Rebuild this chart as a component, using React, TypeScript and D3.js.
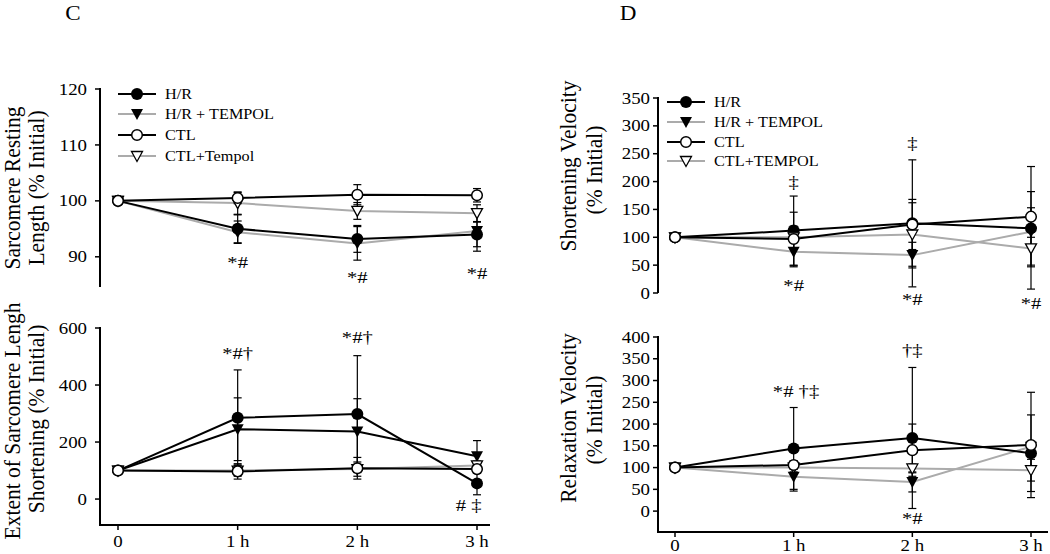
import React from "react";
import * as d3 from "d3";

// ---------- data ----------
const timeLabels = ["0", "1 h", "2 h", "3 h"];
const timeIdx = [0, 1, 2, 3];
const legendC = ["H/R", "H/R + TEMPOL", "CTL", "CTL+Tempol"];
const legendD = ["H/R", "H/R + TEMPOL", "CTL", "CTL+TEMPOL"];

// C top: Sarcomere resting length
const restHR = [100, 95, 93.2, 94];
const restHRErr = [0, 2.5, 2.4, 2.2];
const restHRT = [100, 94.4, 92.4, 94.6];
const restHRTErr = [0, 2, 3, 3.6];
const restCTL = [100, 100.5, 101.1, 101];
const restCTLErr = [0.4, 1, 1.8, 1.2];
const restCTLT = [100, 99.6, 98.2, 97.8];
const restCTLTErr = [0, 2, 1.5, 1.5];
const restTicks = [90, 100, 110, 120];
const restAnnText = ["*#", "*#", "*#"];
const restAnnTime = [1, 2, 3];
const restAnnVal = [89.1, 86.4, 87.1];

// C bottom: Extent of shortening
const shortHR = [100, 285, 298, 55];
const shortHRErr = [0, 168, 205, 40];
const shortHRT = [100, 245, 237, 150];
const shortHRTErr = [0, 110, 115, 55];
const shortCTL = [100, 97, 108, 105];
const shortCTLErr = [0, 27, 38, 15];
const shortCTLT = [100, 100, 105, 118];
const shortCTLTErr = [0, 20, 25, 15];
const shortTicks = [0, 200, 400, 600];
const shortAnnText = ["*#\u2020", "*#\u2020", "# \u2021"];
const shortAnnTime = [1, 2, 2.93];
const shortAnnVal = [512, 568, -21];

// D top: Shortening velocity
const velHR = [100, 112, 125, 116];
const velHRErr = [0, 62, 114, 66];
const velHRT = [100, 74, 68, 110];
const velHRTErr = [0, 27, 23, 10];
const velCTL = [100, 97, 123, 137];
const velCTLErr = [0, 48, 45, 90];
const velCTLT = [100, 100, 105, 80];
const velCTLTErr = [0, 20, 57, 73];
const velTicks = [0, 50, 100, 150, 200, 250, 300, 350];
const velAnnText = ["\u2021", "\u2021", "*#", "*#", "*#"];
const velAnnTime = [1, 2, 1, 2, 3];
const velAnnVal = [199, 269, 14, -11, -18];

// D bottom: Relaxation velocity
const relHR = [100, 144, 168, 133];
const relHRErr = [0, 94, 162, 88];
const relHRT = [100, 79, 67, 148];
const relHRTErr = [0, 33, 23, 10];
const relCTL = [100, 106, 140, 152];
const relCTLErr = [0, 10, 60, 121];
const relCTLT = [100, 100, 98, 94];
const relCTLTErr = [0, 10, 10, 25];
const relTicks = [0, 50, 100, 150, 200, 250, 300, 350, 400];
const relAnnText = ["*# \u2020\u2021", "\u2020\u2021", "*#"];
const relAnnTime = [1.02, 2, 2];
const relAnnVal = [276, 370, -16];

// ---------- styling ----------
const BLACK = "#000";
const GRAY = "#ababab";
const FONT = "'Liberation Serif', 'Times New Roman', serif";
const markers = ["fc", "ft", "oc", "ot"];
const SX = 1.18; // horizontal widening of glyphs, as in the reference

type Series = { values: number[]; err: number[]; marker: string; color: string };

function WText({
  x,
  y,
  size,
  anchor,
  sx,
  children,
}: {
  x: number;
  y: number;
  size: number;
  anchor: "start" | "middle" | "end";
  sx?: number;
  children: React.ReactNode;
}) {
  return (
    <text
      transform={`translate(${x},${y}) scale(${sx ?? SX},1)`}
      dy="0.35em"
      textAnchor={anchor}
      fontSize={size}
      fontFamily={FONT}
      fill={BLACK}
    >
      {children}
    </text>
  );
}

function Marker({ kind, x, y }: { kind: string; x: number; y: number }) {
  if (kind === "fc") return <circle cx={x} cy={y} r={6} fill={BLACK} />;
  if (kind === "oc") return <circle cx={x} cy={y} r={5.3} fill="#fff" stroke={BLACK} strokeWidth={1.5} />;
  const p = `M${x - 6},${y - 5}L${x + 6},${y - 5}L${x},${y + 6}Z`;
  if (kind === "ft") return <path d={p} fill={BLACK} />;
  return (
    <path
      d={`M${x - 5.5},${y - 4.5}L${x + 5.5},${y - 4.5}L${x},${y + 5.5}Z`}
      fill="#fff"
      stroke={BLACK}
      strokeWidth={1.3}
    />
  );
}

function Panel(props: {
  xRange: [number, number];
  yDomain: [number, number];
  yRange: [number, number];
  axisX: number;
  tickGap: number;
  ticks: number[];
  series: Series[];
  xAxis: boolean;
  xAxisEnd: number;
  labelX: number;
  annText: string[];
  annTime: number[];
  annVal: number[];
}) {
  const x = d3.scaleLinear().domain([0, 3]).range(props.xRange);
  const y = d3.scaleLinear().domain(props.yDomain).range(props.yRange);
  const line = d3
    .line<number>()
    .x((_, i) => x(timeIdx[i]))
    .y((d) => y(d));
  const ax = props.axisX;
  const bottom = props.yRange[0];
  return (
    <g>
      <line x1={ax} x2={ax} y1={bottom} y2={props.yRange[1] - 1} stroke={BLACK} strokeWidth={2} />
      {props.ticks.map((t) => (
        <g key={t}>
          <line x1={ax - 5} x2={ax} y1={y(t)} y2={y(t)} stroke={BLACK} strokeWidth={1.5} />
          <WText x={ax - props.tickGap} y={y(t)} size={16} anchor="end">
            {t}
          </WText>
        </g>
      ))}
      {props.xAxis && (
        <g>
          <line x1={ax - 1} x2={props.xAxisEnd} y1={bottom} y2={bottom} stroke={BLACK} strokeWidth={2} />
          {timeIdx.map((t) => (
            <g key={t}>
              <line x1={x(t)} x2={x(t)} y1={bottom} y2={bottom + 5} stroke={BLACK} strokeWidth={1.5} />
              <WText x={x(t)} y={props.labelX} size={16} anchor="middle">
                {timeLabels[t]}
              </WText>
            </g>
          ))}
        </g>
      )}
      {props.series
        .filter((s) => s.color !== BLACK)
        .map((s, i) => (
          <path key={"g" + i} d={line(s.values) || ""} fill="none" stroke={s.color} strokeWidth={2} />
        ))}
      {props.series
        .filter((s) => s.color === BLACK)
        .map((s, i) => (
          <path key={"b" + i} d={line(s.values) || ""} fill="none" stroke={s.color} strokeWidth={2} />
        ))}
      {props.series.map((s, si) =>
        s.values.map((v, i) =>
          s.err[i] > 0 ? (
            <g key={`e${si}-${i}`} stroke={BLACK} strokeWidth={1.2}>
              <line x1={x(timeIdx[i])} x2={x(timeIdx[i])} y1={y(v - s.err[i])} y2={y(v + s.err[i])} />
              <line x1={x(timeIdx[i]) - 4} x2={x(timeIdx[i]) + 4} y1={y(v + s.err[i])} y2={y(v + s.err[i])} />
              <line x1={x(timeIdx[i]) - 4} x2={x(timeIdx[i]) + 4} y1={y(v - s.err[i])} y2={y(v - s.err[i])} />
            </g>
          ) : null
        )
      )}
      {[1, 0, 3, 2].map((si) =>
        props.series[si].values.map((v, i) => (
          <Marker key={`m${si}-${i}`} kind={props.series[si].marker} x={x(timeIdx[i])} y={y(v)} />
        ))
      )}
      {props.annText.map((t, i) => (
        <WText key={"a" + i} x={x(props.annTime[i])} y={y(props.annVal[i])} size={17.5} anchor="middle">
          {t}
        </WText>
      ))}
    </g>
  );
}

function Legend({ x0, ys, names }: { x0: number; ys: number[]; names: string[] }) {
  const colors = [BLACK, GRAY, BLACK, GRAY];
  return (
    <g>
      {names.map((n, i) => (
        <g key={n}>
          <line x1={x0} x2={x0 + 38} y1={ys[i]} y2={ys[i]} stroke={colors[i]} strokeWidth={2} />
          <Marker kind={markers[i]} x={x0 + 19} y={ys[i]} />
          <WText x={x0 + 47} y={ys[i]} size={14} anchor="start" sx={1.16}>
            {n}
          </WText>
        </g>
      ))}
    </g>
  );
}

function YLabel({ x, y, text }: { x: number; y: number; text: string }) {
  return (
    <text
      transform={`translate(${x},${y}) rotate(-90) scale(1,1.1)`}
      textAnchor="middle"
      dy="0.35em"
      fontSize={21.5}
      fontFamily={FONT}
    >
      {text}
    </text>
  );
}

export default function App() {
  const mk = (vals: number[][], errs: number[][], cols: string[]): Series[] =>
    vals.map((v, i) => ({ values: v, err: errs[i], marker: markers[i], color: cols[i] }));

  return (
    <svg width={1050} height={554} style={{ position: "absolute", left: 0, top: 0, background: "#fff" }}>
      <rect width={1050} height={554} fill="#fff" />
      <WText x={73} y={13} size={21} anchor="middle" sx={1.1}>C</WText>
      <WText x={628} y={13} size={21} anchor="middle" sx={1.1}>D</WText>

      {/* Panel C top */}
      <Panel
        xRange={[118, 477]}
        yDomain={[84.6, 120]}
        yRange={[287, 89]}
        axisX={100}
        tickGap={13}
        ticks={restTicks}
        series={mk(
          [restHR, restHRT, restCTL, restCTLT],
          [restHRErr, restHRTErr, restCTLErr, restCTLTErr],
          [BLACK, GRAY, BLACK, GRAY]
        )}
        xAxis={false}
        xAxisEnd={0}
        labelX={0}
        annText={restAnnText}
        annTime={restAnnTime}
        annVal={restAnnVal}
      />
      <Legend x0={118} ys={[94, 114, 135, 156]} names={legendC} />
      <YLabel x={12} y={188} text="Sarcomere Resting" />
      <YLabel x={36} y={188} text="Length (% Initial)" />

      {/* Panel C bottom */}
      <Panel
        xRange={[118, 477]}
        yDomain={[-91, 600]}
        yRange={[525, 328]}
        axisX={100}
        tickGap={13}
        ticks={shortTicks}
        series={mk(
          [shortHR, shortHRT, shortCTL, shortCTLT],
          [shortHRErr, shortHRTErr, shortCTLErr, shortCTLTErr],
          [BLACK, BLACK, BLACK, GRAY]
        )}
        xAxis={true}
        xAxisEnd={490}
        labelX={541}
        annText={shortAnnText}
        annTime={shortAnnTime}
        annVal={shortAnnVal}
      />
      <YLabel x={12} y={421} text="Extent of Sarcomere Lengh" />
      <YLabel x={36} y={419} text="Shortening (% Initial)" />

      {/* Panel D top */}
      <Panel
        xRange={[675, 1031]}
        yDomain={[0, 350]}
        yRange={[293, 98]}
        axisX={658}
        tickGap={8}
        ticks={velTicks}
        series={mk(
          [velHR, velHRT, velCTL, velCTLT],
          [velHRErr, velHRTErr, velCTLErr, velCTLTErr],
          [BLACK, GRAY, BLACK, GRAY]
        )}
        xAxis={false}
        xAxisEnd={0}
        labelX={0}
        annText={velAnnText}
        annTime={velAnnTime}
        annVal={velAnnVal}
      />
      <Legend x0={667} ys={[102, 122, 142, 161]} names={legendD} />
      <YLabel x={568} y={166} text="Shortening Velocity" />
      <YLabel x={594} y={170} text="(% Initial)" />

      {/* Panel D bottom */}
      <Panel
        xRange={[675, 1031]}
        yDomain={[-48, 400]}
        yRange={[532, 337]}
        axisX={658}
        tickGap={8}
        ticks={relTicks}
        series={mk(
          [relHR, relHRT, relCTL, relCTLT],
          [relHRErr, relHRTErr, relCTLErr, relCTLTErr],
          [BLACK, GRAY, BLACK, GRAY]
        )}
        xAxis={true}
        xAxisEnd={1048}
        labelX={545}
        annText={relAnnText}
        annTime={relAnnTime}
        annVal={relAnnVal}
      />
      <YLabel x={568} y={418} text="Relaxation Velocity" />
      <YLabel x={594} y={420} text="(% Initial)" />
    </svg>
  );
}
